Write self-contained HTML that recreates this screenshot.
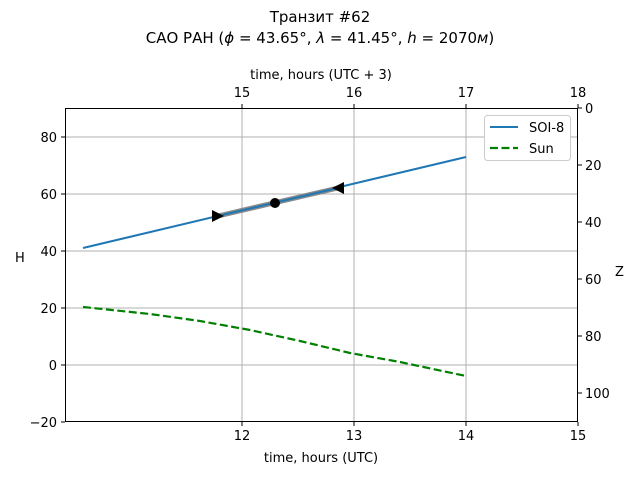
<!DOCTYPE html>
<html><head><meta charset="utf-8"><style>
body{margin:0;background:#fff;width:640px;height:480px;overflow:hidden}
text{font-family:"DejaVu Sans","Liberation Sans",sans-serif;font-size:13px;fill:#000}
</style></head><body>
<svg width="640" height="480" viewBox="0 0 640 480" xmlns="http://www.w3.org/2000/svg">
<text x="320" y="22" text-anchor="middle" font-size="15" style="font-size:15px">Транзит #62</text>
<text x="320" y="43" text-anchor="middle" style="font-size:15px">САО РАН (<tspan font-style="italic">ϕ</tspan> = 43.65°, <tspan font-style="italic">λ</tspan> = 41.45°, <tspan font-style="italic">h</tspan> = 2070<tspan font-style="italic">м</tspan>)</text>
<g stroke="#b0b0b0" stroke-width="1">
<line x1="242" y1="108" x2="242" y2="422"/><line x1="354" y1="108" x2="354" y2="422"/><line x1="466" y1="108" x2="466" y2="422"/>
<line x1="65" y1="137" x2="578" y2="137"/><line x1="65" y1="194" x2="578" y2="194"/><line x1="65" y1="251" x2="578" y2="251"/><line x1="65" y1="308" x2="578" y2="308"/><line x1="65" y1="365" x2="578" y2="365"/>
</g>
<polyline points="83,307 150,314 200,321 250,330 300,341 350,353 400,362 466,376" fill="none" stroke="#008000" stroke-width="2.2" stroke-dasharray="8,3.5"/>
<line x1="83" y1="248" x2="466" y2="157" stroke="#1f77b4" stroke-width="2"/>
<line x1="218" y1="216" x2="338" y2="188" stroke="#808080" stroke-width="5" opacity="0.9"/>
<line x1="218" y1="216" x2="338" y2="188" stroke="#1f77b4" stroke-width="2"/>
<polygon points="212,210 212,222 224,216" fill="#000"/>
<polygon points="344,182 344,194 332,188" fill="#000"/>
<circle cx="275" cy="203" r="5" fill="#000"/>
<rect x="65.5" y="108.5" width="512" height="313" fill="none" stroke="#000" stroke-width="1"/>
<g stroke="#000">
<line x1="242" y1="422" x2="242" y2="426"/><line x1="354" y1="422" x2="354" y2="426"/><line x1="466" y1="422" x2="466" y2="426"/><line x1="578" y1="422" x2="578" y2="426"/>
<line x1="242" y1="108" x2="242" y2="104"/><line x1="354" y1="108" x2="354" y2="104"/><line x1="466" y1="108" x2="466" y2="104"/><line x1="578" y1="108" x2="578" y2="104"/>
<line x1="61" y1="137" x2="65" y2="137"/><line x1="61" y1="194" x2="65" y2="194"/><line x1="61" y1="251" x2="65" y2="251"/><line x1="61" y1="308" x2="65" y2="308"/><line x1="61" y1="365" x2="65" y2="365"/><line x1="61" y1="422" x2="65" y2="422"/>
<line x1="578" y1="108" x2="582" y2="108"/><line x1="578" y1="165" x2="582" y2="165"/><line x1="578" y1="222" x2="582" y2="222"/><line x1="578" y1="279" x2="582" y2="279"/><line x1="578" y1="336" x2="582" y2="336"/><line x1="578" y1="393" x2="582" y2="393"/>
</g>
<g text-anchor="middle">
<text x="242" y="440">12</text><text x="354" y="440">13</text><text x="466" y="440">14</text><text x="578" y="440">15</text>
<text x="242" y="97">15</text><text x="354" y="97">16</text><text x="466" y="97">17</text><text x="578" y="97">18</text>
<text x="321" y="462">time, hours (UTC)</text>
<text x="321" y="79">time, hours (UTC + 3)</text>
</g>
<g text-anchor="end">
<text x="57" y="142">80</text><text x="57" y="199">60</text><text x="57" y="256">40</text><text x="57" y="313">20</text><text x="57" y="370">0</text><text x="57" y="427">−20</text>
</g>
<g>
<text x="585" y="113">0</text><text x="585" y="170">20</text><text x="585" y="227">40</text><text x="585" y="284">60</text><text x="585" y="341">80</text><text x="585" y="398">100</text>
</g>
<text x="15" y="262">H</text>
<text x="615" y="276">Z</text>
<rect x="484.5" y="115.5" width="86" height="45" rx="3" fill="#fff" stroke="#ccc"/>
<line x1="490" y1="127" x2="518" y2="127" stroke="#1f77b4" stroke-width="2"/>
<text x="529" y="132">SOI-8</text>
<line x1="490" y1="148" x2="518" y2="148" stroke="#008000" stroke-width="2.2" stroke-dasharray="8,3.5"/>
<text x="529" y="153">Sun</text>
</svg>
</body></html>
